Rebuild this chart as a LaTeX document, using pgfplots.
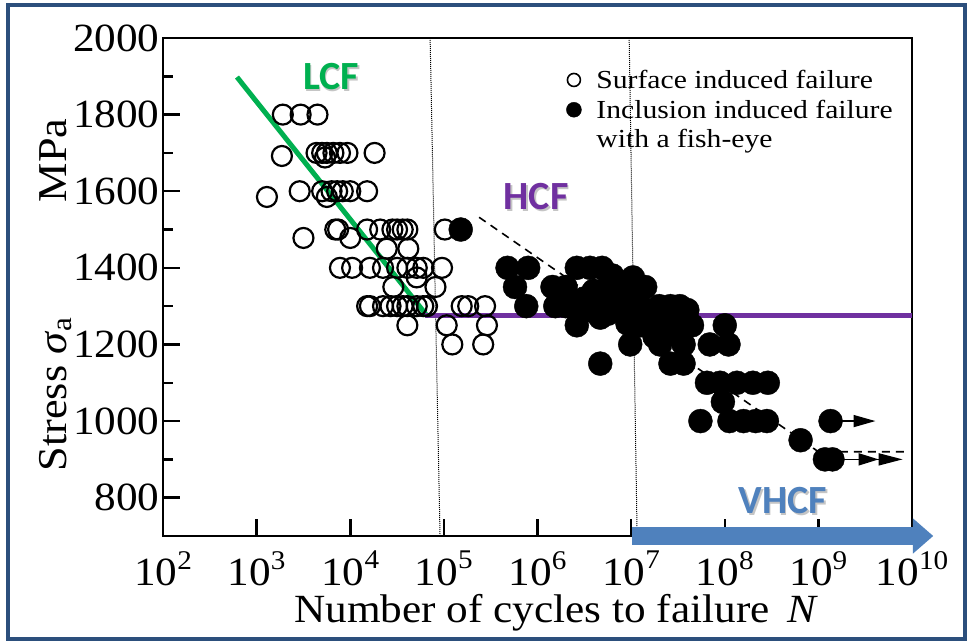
\documentclass[border=0pt]{standalone}
\usepackage{pgfplots}
\pgfplotsset{compat=1.18}
\usepackage{pgfplotstable}
\usepackage{fontspec}
\setmainfont{Liberation Serif}[FakeStretch=1.08]
\newfontfamily\legfont{Liberation Serif}[FakeStretch=1.14]
\newfontfamily\calfont{Carlito}
\usetikzlibrary{arrows.meta}
\definecolor{lcfc}{HTML}{00B050}
\definecolor{hcfc}{HTML}{7030A0}
\definecolor{vhcfc}{HTML}{4F81BD}
\definecolor{framec}{HTML}{2C4F7C}
\newcommand\tp[1]{10\raisebox{0.42em}{\fontsize{27bp}{27bp}\selectfont #1}}

% log10(N)  stress(MPa)
\pgfplotstableread{
lx y
3.28 1800
3.47 1800
3.65 1800
3.27 1692
3.64 1700
3.70 1700
3.73 1688
3.75 1700
3.82 1700
3.89 1700
3.97 1700
4.26 1700
3.11 1585
3.46 1600
3.70 1600
3.75 1585
3.80 1600
3.86 1600
3.92 1600
4.00 1600
4.18 1600
3.50 1478
3.84 1500
3.87 1500
4.00 1478
4.18 1500
4.32 1500
4.45 1500
4.50 1500
4.56 1500
4.61 1500
5.01 1500
4.39 1450
4.62 1450
3.89 1400
4.02 1400
4.21 1400
4.35 1400
4.50 1400
4.61 1400
4.71 1400
4.78 1400
4.98 1400
4.71 1375
4.46 1350
4.91 1350
4.18 1300
4.21 1300
4.35 1300
4.43 1300
4.50 1300
4.56 1300
4.61 1300
4.71 1300
4.78 1300
4.82 1300
5.19 1300
5.26 1300
5.44 1300
4.61 1250
5.03 1250
5.46 1250
5.09 1200
5.42 1200
}\opendata

\pgfplotstableread{
lx y
5.18 1500
5.68 1400
5.90 1400
5.76 1350
5.88 1300
6.16 1350
6.19 1300
6.30 1350
6.30 1300
6.45 1300
6.42 1400
6.56 1400
6.69 1400
6.80 1380
6.42 1250
6.50 1320
6.55 1290
6.60 1340
6.75 1350
6.85 1320
6.70 1300
6.75 1280
6.90 1300
6.67 1270
6.88 1340
7.02 1375
7.00 1320
7.10 1300
7.15 1350
6.96 1255
7.10 1250
7.20 1280
7.30 1300
7.35 1270
7.42 1300
7.45 1270
7.52 1300
7.60 1290
7.28 1250
7.52 1250
7.65 1250
7.40 1230
7.25 1220
8.00 1250
6.99 1200
7.31 1200
7.56 1200
7.84 1200
8.04 1200
6.67 1150
7.42 1150
7.56 1150
7.81 1100
7.95 1100
8.13 1100
8.30 1100
8.46 1100
7.98 1050
7.74 1000
8.05 1000
8.20 1000
8.33 1000
8.45 1000
9.13 1000
8.81 950
9.07 900
9.15 900
}\filleddata

\begin{document}
\begin{tikzpicture}[x=1bp,y=1bp]
\useasboundingbox (0,0) rectangle (971,644);
\fill[white] (0,0) rectangle (971,644);
\begin{axis}[
  at={(163bp,108bp)}, anchor=south west,
  scale only axis, width=749bp, height=498bp,
  xmin=2, xmax=10, ymin=700, ymax=2000,
  clip=false,
  axis line style={line width=2.8bp},
  tick align=inside, tick pos=left,
  xtick={2,3,4,5,6,7,8,9,10},
  xticklabels={\tp{2},\tp{3},\tp{4},\tp{5},\tp{6},\tp{7},\tp{8},\tp{9},\tp{10}},
  ytick={800,1000,...,2000},
  minor ytick={900,1100,...,1900},
  major tick length=17bp, minor tick length=10bp,
  tick style={black, line width=2.5bp},
  tick label style={font=\fontsize{40bp}{44bp}\selectfont},
  /pgf/number format/assume math mode=true,
  /pgf/number format/1000 sep={},
  xticklabel style={inner sep=0pt, yshift=-15bp},
  xlabel={Number of cycles to failure\, \textit{N}},
  xlabel style={font=\fontsize{40bp}{44bp}\selectfont, inner sep=0pt, at={(axis description cs:0.525,-0.155)}, anchor=center},
  ylabel={Stress \textit{σ}\textsubscript{a}\hspace{2.8em}MPa},
  ylabel style={font=\fontsize{41bp}{44bp}\selectfont, at={(axis description cs:-0.144,0.484)}, anchor=center},
  legend style={draw=none, fill=none, at={(axis description cs:0.537,0.940)}, anchor=north west,
    font=\legfont\fontsize{26bp}{28bp}\selectfont, row sep=6bp, inner sep=0pt},
  legend cell align=left,
]
\addlegendimage{only marks, mark=o, mark size=6.5bp, line width=1.6bp, black}
\addlegendentry{\hspace{13bp}Surface induced failure}
\addlegendimage{only marks, mark=*, mark size=7.5bp, black}
\addlegendentry{\hspace{13bp}Inclusion induced failure}
\addlegendimage{empty legend}
\addlegendentry{\hspace{13bp}with a fish-eye}

% dotted verticals
\addplot[forget plot, black, line width=1bp, densely dotted] coordinates {(4.853,2000) (4.959,700)};
\addplot[forget plot, black, line width=1bp, densely dotted] coordinates {(6.979,2000) (7.064,700)};
% dashed trend
\addplot[forget plot, black, line width=1.6bp, dash pattern=on 8bp off 6bp] coordinates {(5.376,1532) (9.0,920) (9.96,920)};
% data
\addplot[forget plot, only marks, mark=o, mark size=10bp, line width=2.2bp, black] table[x=lx,y=y] {\opendata};
\addplot[forget plot, only marks, mark=*, mark size=12bp, black, fill=black] table[x=lx,y=y] {\filleddata};
% run-out arrows
\addplot[forget plot, black, line width=1.6bp, -{Triangle[length=22bp,width=12bp]}] coordinates {(9.25,1000) (9.61,1000)};
\addplot[forget plot, black, line width=1.6bp, -{Triangle[length=20bp,width=12bp]Triangle[length=24bp,width=12bp]}] coordinates {(9.25,900) (9.90,900)};
% regime lines
\addplot[forget plot, lcfc, line width=5bp] coordinates {(2.79,1898) (4.82,1275)};
\addplot[forget plot, hcfc, line width=5bp] coordinates {(4.80,1276) (10,1276)};

\coordinate (A1) at (axis cs:7.01,677);
\coordinate (A2) at (axis cs:10.01,677);
\coordinate (A3) at (axis cs:10.01,654);
\coordinate (A4) at (axis cs:10.226,700);
\coordinate (A5) at (axis cs:10.01,746);
\coordinate (A6) at (axis cs:10.01,723);
\coordinate (A7) at (axis cs:7.01,723);
\end{axis}
\fill[vhcfc] (A1) -- (A2) -- (A3) -- (A4) -- (A5) -- (A6) -- (A7) -- cycle;
% region labels
\begin{scope}[font=\calfont\bfseries\fontsize{40bp}{40bp}\selectfont]
\node[black!45, opacity=0.5] at (332.5,565.5) {LCF};
\node[lcfc] at (331,567) {LCF};
\node[black!45, opacity=0.5] at (537.5,445.5) {HCF};
\node[hcfc] at (536,447) {HCF};
\node[black!45, opacity=0.5] at (784.5,141.5) {VHCF};
\node[vhcfc] at (783,143) {VHCF};
\end{scope}
\draw[framec, line width=4bp] (7.5,5) rectangle (965,639);
\end{tikzpicture}
\end{document}
